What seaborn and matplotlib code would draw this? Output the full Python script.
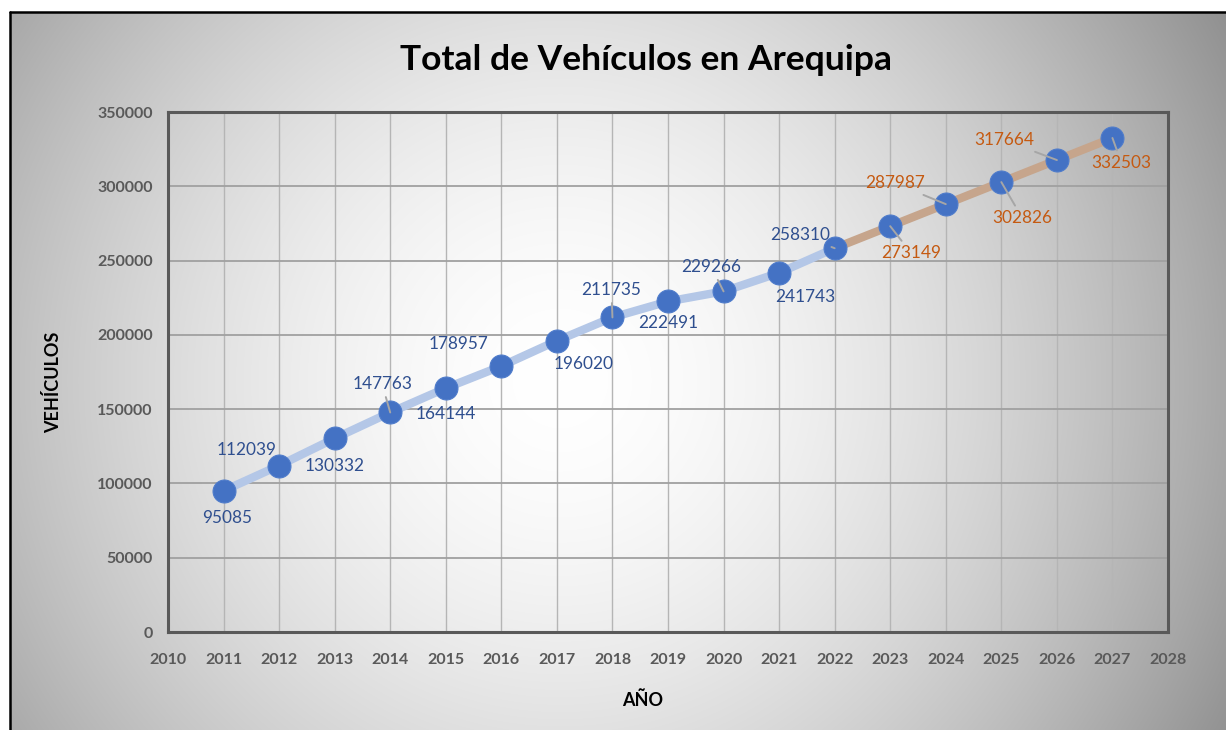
import numpy as np
import pandas as pd
import matplotlib
matplotlib.use("Agg")
import matplotlib.pyplot as plt
import seaborn as sns
from matplotlib.lines import Line2D

# ---------------- data ----------------
years = [2011, 2012, 2013, 2014, 2015, 2016, 2017, 2018, 2019,
         2020, 2021, 2022, 2023, 2024, 2025, 2026, 2027]
vehicles = [95085, 112039, 130332, 147763, 164144, 178957, 196020, 211735,
            222491, 229266, 241743, 258310, 273149, 287987, 302826, 317664, 332503]
last_actual_year = 2022
title = "Total de Vehículos en Arequipa"
xlabel = "AÑO"
ylabel = "VEHÍCULOS"
xticks = list(range(2010, 2029))
yticks = list(range(0, 350001, 50000))

# label layout (pixel offsets from each point, image y downward)
label_dx = [4, -33, 0, -8, 0, -43, 27, -1, 0, -12, 26, -34, 21, -51, 21, -53, 9]
label_dy = [27, -16, 28, -28, 26, -22, 23, -27, 22, -24, 24, -13, 27, -21, 36, -20, 25]
leader = [False, False, False, True, False, False, False, True, False,
          True, False, True, True, True, True, True, True]

df = pd.DataFrame({"year": years, "vehicles": vehicles})
hist = df[df["year"] <= last_actual_year]
fcst = df[df["year"] >= last_actual_year]

sns.set_theme(style="white")
plt.rcParams["font.family"] = ["Lato", "DejaVu Sans"]

W, H = 1226, 730
fig = plt.figure(figsize=(W / 100, H / 100), dpi=100)
fig.patch.set_facecolor("white")

# radial gradient background
bg = fig.add_axes([0, 0, 1, 1], zorder=-10)
yy, xx = np.mgrid[0:H, 0:W]
r = np.hypot(xx - 560, yy - 380)
val = 255 - 74 * (r / 600) ** 1.7
val = np.clip(val, 140, 255) / 255.0
img = np.dstack([val, val, val])
img[:12, :, :] = 1.0
img[:, :10, :] = 1.0
bg.imshow(img, extent=[0, W, H, 0], aspect="auto", interpolation="bilinear")
bg.set_xlim(0, W)
bg.set_ylim(H, 0)
bg.axis("off")
bg.add_line(Line2D([10, W], [12, 12], color="black", lw=1.8))
bg.add_line(Line2D([10, 10], [12, H], color="black", lw=1.8))

ax = fig.add_axes([168 / W, 1 - 632 / H, 1000 / W, 520 / H])
ax.patch.set_alpha(0)

sns.lineplot(data=hist, x="year", y="vehicles", ax=ax, color="#B4C7E7",
             lw=6, zorder=2, solid_capstyle="round")
sns.lineplot(data=fcst, x="year", y="vehicles", ax=ax, color="#C6A58C",
             lw=6, zorder=2, solid_capstyle="round")
sns.scatterplot(data=df, x="year", y="vehicles", ax=ax, color="#4472C4",
                s=16.5 ** 2, edgecolor="#4F7CCB", linewidth=0.8, zorder=4)

for i, (yr, v) in enumerate(zip(years, vehicles)):
    col = "#2F4F8F" if yr <= last_actual_year else "#C55A11"
    kw = {}
    if leader[i]:
        kw["arrowprops"] = dict(arrowstyle="-", color="#A6A6A6", lw=1.4,
                                shrinkA=1, shrinkB=0)
    ax.annotate(f"{v}", xy=(yr, v), xytext=(label_dx[i], -label_dy[i]),
                textcoords="offset pixels", ha="center", va="center",
                fontsize=12.4, color=col, zorder=5, **kw)

ax.set_xlim(2010, 2028)
ax.set_ylim(0, 350000)
ax.set_xticks(xticks)
ax.set_yticks(yticks)
ax.set_xticklabels([str(t) for t in xticks])
ax.set_yticklabels([str(t) for t in yticks])
ax.tick_params(axis="both", length=0, labelsize=11.5, labelcolor="#595959")
ax.tick_params(axis="x", pad=15)
ax.tick_params(axis="y", pad=11)
for lab in ax.get_xticklabels() + ax.get_yticklabels():
    lab.set_fontweight("bold")
ax.grid(True, axis="x", color="#B5B5B5", lw=1.0)
ax.grid(True, axis="y", color="#A0A0A0", lw=1.3)
ax.set_axisbelow(True)
for sp in ax.spines.values():
    sp.set_visible(True)
    sp.set_color("#595959")
    sp.set_linewidth(2.2)
ax.set_xlabel("")
ax.set_ylabel("")

fig.text(646 / W, 1 - 60 / H, title, ha="center", va="center",
         fontsize=25.5, fontweight="bold", color="black")
fig.text(643 / W, 1 - 700 / H, xlabel, ha="center", va="center",
         fontsize=13, fontweight="bold", color="black")
fig.text(53 / W, 1 - 382 / H, ylabel, ha="center", va="center",
         rotation=90, fontsize=13, fontweight="bold", color="black")

fig.savefig("out.png", dpi=100)
